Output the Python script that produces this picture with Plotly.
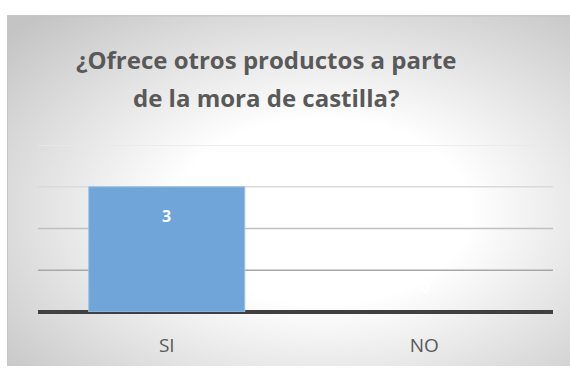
import plotly.graph_objects as go
import urllib.parse

categories = ["SI", "NO"]
values = [3, 0]
title_lines = ["¿Ofrece otros productos a parte", "de la mora de castilla?"]
y_ticks = [0, 1, 2, 3, 4]
grid_colors = ["#a8a8a8", "#c0c0c0", "#dadada", "#e8e8e8"]

W, H = 570, 370
L, R, T, B = 38, 17, 145, 55
PW, PH = W - L - R, H - T - B

svg = (
    "<svg xmlns='http://www.w3.org/2000/svg' width='570' height='370'>"
    "<defs><radialGradient id='g' cx='0.56' cy='0.56' r='0.75'>"
    "<stop offset='0' stop-color='#ffffff'/>"
    "<stop offset='0.35' stop-color='#ffffff'/>"
    "<stop offset='1' stop-color='#c4c4c4'/>"
    "</radialGradient></defs>"
    "<rect x='7' y='13' width='563' height='357' fill='url(#g)'/>"
    "<line x1='7' y1='13.5' x2='570' y2='13.5' stroke='#c0c0c0' stroke-width='1'/>"
    "<line x1='7.5' y1='13' x2='7.5' y2='370' stroke='#c8c8c8' stroke-width='1'/>"
    "</svg>"
)
src = "data:image/svg+xml;charset=utf-8," + urllib.parse.quote(svg)

fig = go.Figure()
fig.add_trace(go.Bar(
    x=categories, y=values,
    marker=dict(color="#6fa5d8",
                line=dict(color="#9cc3e6",
                          width=[1 if v > 0 else 0 for v in values])),
    width=0.606,
    textposition="none",
))

font_family = "Open Sans, Liberation Sans, sans-serif"

annotations = []
for c, v in zip(categories, values):
    annotations.append(dict(
        x=c, y=v, xref="x", yref="y", text=f"<b>{v}</b>", showarrow=False,
        yshift=-29 if v > 0 else 25, yanchor="middle",
        font=dict(family=font_family, size=16, color="#ffffff"),
    ))
title_px = [58, 97]
title_cx = 266
for line, py in zip(title_lines, title_px):
    annotations.append(dict(
        x=(title_cx - L) / PW, xref="paper", y=(H - B - py) / PH, yref="paper",
        text=f"<b>{line}</b>", showarrow=False, yanchor="middle",
        xanchor="center",
        font=dict(family=font_family, size=24, color="#595959"),
    ))

shapes = []
for yv, col in zip(y_ticks[1:], grid_colors):
    shapes.append(dict(type="line", xref="paper", yref="y", x0=0, x1=1,
                       y0=yv, y1=yv, line=dict(color=col, width=1.5),
                       layer="below"))

fig.update_layout(
    width=W, height=H,
    margin=dict(l=L, r=R, t=T, b=B, pad=0),
    paper_bgcolor="#ffffff",
    plot_bgcolor="rgba(0,0,0,0)",
    showlegend=False,
    annotations=annotations,
    shapes=shapes,
    images=[dict(source=src, xref="paper", yref="paper",
                 x=-L / PW, y=1 + T / PH, sizex=W / PW, sizey=H / PH,
                 xanchor="left", yanchor="top", sizing="stretch",
                 layer="below")],
    xaxis=dict(showgrid=False, showline=False, ticks="",
               ticklabelstandoff=20,
               tickfont=dict(family=font_family, size=19, color="#595959"),
               fixedrange=True),
    yaxis=dict(range=[0, 4], tickvals=y_ticks, showticklabels=False,
               showgrid=False, zeroline=True, zerolinecolor="#404040",
               zerolinewidth=4, layer="above traces", fixedrange=True),
    bargap=0.394,
)

fig.write_html("out.html")
